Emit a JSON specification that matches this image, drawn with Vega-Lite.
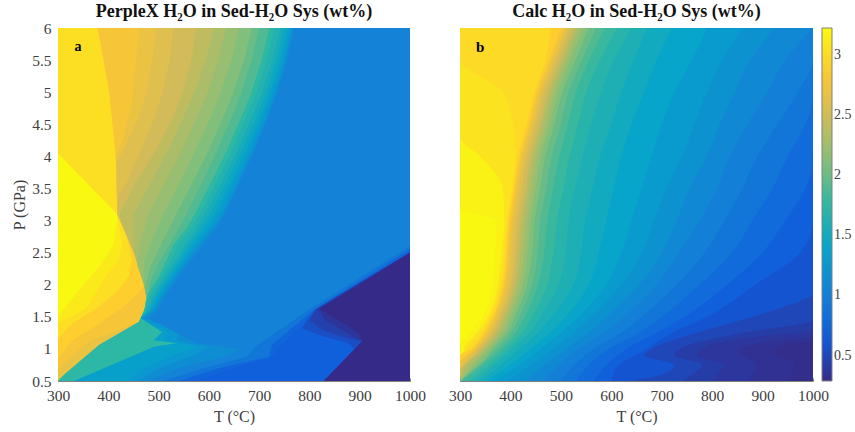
{"$schema":"https://vega.github.io/schema/vega-lite/v6.json","padding":{"left":11,"top":3,"right":0,"bottom":0},"spacing":22,"config":{"view":{"stroke":null},"font":"Liberation Serif","axis":{"grid":false,"domainColor":"#808080","tickColor":"#808080","tickSize":-3,"labelColor":"#404040","titleColor":"#404040","labelFontSize":15.5,"titleFontSize":16,"titleFontWeight":"normal","labelFont":"Liberation Serif","titleFont":"Liberation Serif","zindex":1,"labelOverlap":false},"title":{"font":"Liberation Serif","fontSize":18,"fontWeight":"bold","color":"#111111"}},
"datasets":{"a":[
{"v":3.2,"p":0.5,"t":300},{"v":3.2,"p":6,"t":300},
{"v":3.1,"p":0.5,"t":300},{"v":3.1,"p":1.5,"t":300},{"v":3.1,"p":1.6,"t":310},{"v":3.1,"p":1.875,"t":337},{"v":3.1,"p":2.125,"t":365},{"v":3.1,"p":2.375,"t":390},{"v":3.1,"p":2.625,"t":410},{"v":3.1,"p":3.1,"t":418},{"v":3.1,"p":4.05,"t":300},{"v":3.1,"p":6,"t":300},
{"v":3.02,"p":0.5,"t":300},{"v":3.02,"p":1.4,"t":300},{"v":3.02,"p":1.625,"t":355},{"v":3.02,"p":1.875,"t":375},{"v":3.02,"p":2.125,"t":395},{"v":3.02,"p":2.375,"t":420},{"v":3.02,"p":2.625,"t":428},{"v":3.02,"p":3.1,"t":418},{"v":3.02,"p":4.05,"t":300},{"v":3.02,"p":6,"t":300},
{"v":2.9,"p":0.5,"t":300},{"v":2.9,"p":1.15,"t":300},{"v":2.9,"p":1.375,"t":325},{"v":2.9,"p":1.625,"t":375},{"v":2.9,"p":1.875,"t":415},{"v":2.9,"p":2.125,"t":440},{"v":2.9,"p":2.375,"t":447},{"v":2.9,"p":2.75,"t":437},{"v":2.9,"p":3.1,"t":418},{"v":2.9,"p":4,"t":415},{"v":2.9,"p":5,"t":402},{"v":2.9,"p":6,"t":379},
{"v":2.8,"p":0.5,"t":300},{"v":2.8,"p":0.85,"t":300},{"v":2.8,"p":1.125,"t":328},{"v":2.8,"p":1.375,"t":378},{"v":2.8,"p":1.625,"t":425},{"v":2.8,"p":1.875,"t":460},{"v":2.8,"p":2,"t":471},{"v":2.8,"p":2.5,"t":451},{"v":2.8,"p":2.75,"t":437},{"v":2.8,"p":3.1,"t":418},{"v":2.8,"p":4,"t":415},{"v":2.8,"p":5,"t":402},{"v":2.8,"p":6,"t":379},
{"v":2.7,"p":0.5,"t":300},{"v":2.7,"p":0.7,"t":300},{"v":2.7,"p":0.875,"t":325},{"v":2.7,"p":1.125,"t":362},{"v":2.7,"p":1.42,"t":461},{"v":2.7,"p":1.6,"t":472},{"v":2.7,"p":1.8,"t":476},{"v":2.7,"p":2,"t":471},{"v":2.7,"p":2.5,"t":451},{"v":2.7,"p":3.1,"t":418},{"v":2.7,"p":4,"t":415},{"v":2.7,"p":4.25,"t":428},{"v":2.7,"p":4.75,"t":445},{"v":2.7,"p":5.5,"t":455},{"v":2.7,"p":6,"t":460},
{"v":2.6,"p":0.5,"t":300},{"v":2.6,"p":0.6,"t":313},{"v":2.6,"p":1.06,"t":382},{"v":2.6,"p":1.42,"t":461},{"v":2.6,"p":1.6,"t":472},{"v":2.6,"p":1.8,"t":476},{"v":2.6,"p":2,"t":471},{"v":2.6,"p":2.5,"t":451},{"v":2.6,"p":3.1,"t":418},{"v":2.6,"p":3.9,"t":416},{"v":2.6,"p":4.1,"t":430},{"v":2.6,"p":4.6,"t":460},{"v":2.6,"p":5,"t":475},{"v":2.6,"p":5.5,"t":488},{"v":2.6,"p":6,"t":495},
{"v":2.5,"p":0.5,"t":300},{"v":2.5,"p":0.6,"t":313},{"v":2.5,"p":1.06,"t":382},{"v":2.5,"p":1.42,"t":461},{"v":2.5,"p":1.6,"t":472},{"v":2.5,"p":1.8,"t":476},{"v":2.5,"p":2,"t":471},{"v":2.5,"p":2.5,"t":451},{"v":2.5,"p":3.1,"t":418},{"v":2.5,"p":3.4,"t":420},{"v":2.5,"p":3.6,"t":438},{"v":2.5,"p":4.1,"t":465},{"v":2.5,"p":4.6,"t":492},{"v":2.5,"p":5,"t":508},{"v":2.5,"p":5.5,"t":522},{"v":2.5,"p":6,"t":530},
{"v":2.4,"p":0.5,"t":300},{"v":2.4,"p":0.6,"t":313},{"v":2.4,"p":1.06,"t":382},{"v":2.4,"p":1.42,"t":461},{"v":2.4,"p":1.6,"t":472},{"v":2.4,"p":1.8,"t":476},{"v":2.4,"p":2,"t":471},{"v":2.4,"p":2.5,"t":451},{"v":2.4,"p":2.9,"t":430},{"v":2.4,"p":3.1,"t":422},{"v":2.4,"p":3.6,"t":455},{"v":2.4,"p":4.1,"t":495},{"v":2.4,"p":4.6,"t":528},{"v":2.4,"p":5,"t":548},{"v":2.4,"p":5.5,"t":565},{"v":2.4,"p":6,"t":575},
{"v":2.3,"p":0.5,"t":300},{"v":2.3,"p":0.6,"t":313},{"v":2.3,"p":1.06,"t":382},{"v":2.3,"p":1.42,"t":461},{"v":2.3,"p":1.6,"t":472},{"v":2.3,"p":1.8,"t":476},{"v":2.3,"p":2,"t":471},{"v":2.3,"p":2.5,"t":451},{"v":2.3,"p":2.75,"t":450},{"v":2.3,"p":3.1,"t":450},{"v":2.3,"p":3.6,"t":485},{"v":2.3,"p":4.1,"t":519},{"v":2.3,"p":4.6,"t":549},{"v":2.3,"p":5,"t":571},{"v":2.3,"p":5.5,"t":594},{"v":2.3,"p":6,"t":610},
{"v":2.2,"p":0.5,"t":300},{"v":2.2,"p":0.6,"t":313},{"v":2.2,"p":1.06,"t":382},{"v":2.2,"p":1.42,"t":461},{"v":2.2,"p":1.6,"t":472},{"v":2.2,"p":1.8,"t":476},{"v":2.2,"p":2,"t":471},{"v":2.2,"p":2.3,"t":458},{"v":2.2,"p":2.6,"t":462},{"v":2.2,"p":3.1,"t":480},{"v":2.2,"p":3.6,"t":514},{"v":2.2,"p":4.1,"t":547},{"v":2.2,"p":4.6,"t":576},{"v":2.2,"p":5,"t":598},{"v":2.2,"p":5.5,"t":619},{"v":2.2,"p":6,"t":635},
{"v":2.1,"p":0.5,"t":300},{"v":2.1,"p":0.6,"t":313},{"v":2.1,"p":1.06,"t":382},{"v":2.1,"p":1.42,"t":461},{"v":2.1,"p":1.6,"t":472},{"v":2.1,"p":1.8,"t":476},{"v":2.1,"p":2.05,"t":471},{"v":2.1,"p":2.375,"t":472},{"v":2.1,"p":2.75,"t":490},{"v":2.1,"p":3.1,"t":510},{"v":2.1,"p":3.6,"t":543},{"v":2.1,"p":4.1,"t":574},{"v":2.1,"p":4.6,"t":603},{"v":2.1,"p":5,"t":624},{"v":2.1,"p":5.5,"t":645},{"v":2.1,"p":6,"t":660},
{"v":2,"p":0.5,"t":300},{"v":2,"p":0.6,"t":313},{"v":2,"p":1.06,"t":382},{"v":2,"p":1.42,"t":461},{"v":2,"p":1.6,"t":472},{"v":2,"p":1.8,"t":476},{"v":2,"p":1.95,"t":473},{"v":2,"p":2.25,"t":482},{"v":2,"p":2.625,"t":505},{"v":2,"p":3.1,"t":535},{"v":2,"p":3.6,"t":568},{"v":2,"p":4.1,"t":600},{"v":2,"p":4.6,"t":628},{"v":2,"p":5,"t":649},{"v":2,"p":5.5,"t":670},{"v":2,"p":6,"t":685},
{"v":1.9,"p":0.5,"t":300},{"v":1.9,"p":0.6,"t":313},{"v":1.9,"p":1.06,"t":382},{"v":1.9,"p":1.42,"t":461},{"v":1.9,"p":1.6,"t":472},{"v":1.9,"p":1.8,"t":476},{"v":1.9,"p":2.125,"t":487},{"v":1.9,"p":2.4,"t":505},{"v":1.9,"p":2.875,"t":540},{"v":1.9,"p":3.1,"t":555},{"v":1.9,"p":3.6,"t":587},{"v":1.9,"p":4.1,"t":617},{"v":1.9,"p":4.6,"t":645},{"v":1.9,"p":5,"t":665},{"v":1.9,"p":5.5,"t":685},{"v":1.9,"p":6,"t":700},
{"v":1.75,"p":0.5,"t":300},{"v":1.75,"p":0.6,"t":313},{"v":1.75,"p":1.06,"t":382},{"v":1.75,"p":1.42,"t":461},{"v":1.75,"p":1.62,"t":472},{"v":1.75,"p":1.875,"t":480},{"v":1.75,"p":2.125,"t":500},{"v":1.75,"p":2.375,"t":515},{"v":1.75,"p":2.625,"t":530},{"v":1.75,"p":2.875,"t":555},{"v":1.75,"p":3.1,"t":572},{"v":1.75,"p":3.6,"t":605},{"v":1.75,"p":4.1,"t":636},{"v":1.75,"p":4.6,"t":664},{"v":1.75,"p":5,"t":685},{"v":1.75,"p":5.5,"t":705},{"v":1.75,"p":6,"t":720},
{"v":1.65,"p":0.5,"t":333},{"v":1.65,"p":1.03,"t":491},{"v":1.65,"p":1.09,"t":538},{"v":1.65,"p":1.14,"t":491},{"v":1.65,"p":1.26,"t":508},{"v":1.65,"p":1.48,"t":465},{"v":1.65,"p":1.6,"t":474},{"v":1.65,"p":1.75,"t":478},{"v":1.65,"p":1.875,"t":485},{"v":1.65,"p":2.125,"t":505},{"v":1.65,"p":2.375,"t":525},{"v":1.65,"p":2.625,"t":540},{"v":1.65,"p":2.875,"t":565},{"v":1.65,"p":3.1,"t":582},{"v":1.65,"p":3.6,"t":615},{"v":1.65,"p":4.1,"t":646},{"v":1.65,"p":4.6,"t":674},{"v":1.65,"p":5,"t":695},{"v":1.65,"p":5.5,"t":715},{"v":1.65,"p":6,"t":730},
{"v":1.55,"p":0.5,"t":333},{"v":1.55,"p":1.03,"t":491},{"v":1.55,"p":1.09,"t":538},{"v":1.55,"p":1.14,"t":491},{"v":1.55,"p":1.26,"t":508},{"v":1.55,"p":1.48,"t":465},{"v":1.55,"p":1.6,"t":476},{"v":1.55,"p":1.875,"t":492},{"v":1.55,"p":2.125,"t":512},{"v":1.55,"p":2.375,"t":533},{"v":1.55,"p":2.625,"t":553},{"v":1.55,"p":2.875,"t":575},{"v":1.55,"p":3.1,"t":592},{"v":1.55,"p":3.6,"t":625},{"v":1.55,"p":4.1,"t":657},{"v":1.55,"p":4.6,"t":685},{"v":1.55,"p":5,"t":706},{"v":1.55,"p":5.5,"t":727},{"v":1.55,"p":6,"t":742},
{"v":1.45,"p":0.5,"t":333},{"v":1.45,"p":1.03,"t":491},{"v":1.45,"p":1.09,"t":538},{"v":1.45,"p":1.14,"t":491},{"v":1.45,"p":1.26,"t":508},{"v":1.45,"p":1.48,"t":465},{"v":1.45,"p":1.6,"t":480},{"v":1.45,"p":1.875,"t":498},{"v":1.45,"p":2.125,"t":518},{"v":1.45,"p":2.375,"t":540},{"v":1.45,"p":2.625,"t":560},{"v":1.45,"p":2.875,"t":583},{"v":1.45,"p":3.1,"t":602},{"v":1.45,"p":3.6,"t":635},{"v":1.45,"p":4.1,"t":666},{"v":1.45,"p":4.6,"t":694},{"v":1.45,"p":5,"t":715},{"v":1.45,"p":5.5,"t":735},{"v":1.45,"p":6,"t":750},
{"v":1.35,"p":0.5,"t":333},{"v":1.35,"p":1.03,"t":491},{"v":1.35,"p":1.09,"t":538},{"v":1.35,"p":1.14,"t":491},{"v":1.35,"p":1.26,"t":508},{"v":1.35,"p":1.48,"t":465},{"v":1.35,"p":1.6,"t":484},{"v":1.35,"p":1.875,"t":502},{"v":1.35,"p":2.125,"t":524},{"v":1.35,"p":2.375,"t":546},{"v":1.35,"p":2.625,"t":568},{"v":1.35,"p":2.875,"t":592},{"v":1.35,"p":3.1,"t":612},{"v":1.35,"p":3.6,"t":644},{"v":1.35,"p":4.1,"t":674},{"v":1.35,"p":4.6,"t":702},{"v":1.35,"p":5,"t":722},{"v":1.35,"p":5.5,"t":742},{"v":1.35,"p":6,"t":757},
{"v":1.25,"p":0.5,"t":441},{"v":1.25,"p":0.7,"t":470},{"v":1.25,"p":0.9,"t":530},{"v":1.25,"p":1.03,"t":575},{"v":1.25,"p":1.09,"t":545},{"v":1.25,"p":1.14,"t":510},{"v":1.25,"p":1.26,"t":520},{"v":1.25,"p":1.48,"t":465},{"v":1.25,"p":1.6,"t":488},{"v":1.25,"p":1.875,"t":507},{"v":1.25,"p":2.125,"t":528},{"v":1.25,"p":2.375,"t":551},{"v":1.25,"p":2.625,"t":575},{"v":1.25,"p":2.875,"t":600},{"v":1.25,"p":3.1,"t":620},{"v":1.25,"p":3.6,"t":651},{"v":1.25,"p":4.1,"t":681},{"v":1.25,"p":4.6,"t":708},{"v":1.25,"p":5,"t":728},{"v":1.25,"p":5.5,"t":748},{"v":1.25,"p":6,"t":762},
{"v":1.15,"p":0.5,"t":460},{"v":1.15,"p":0.7,"t":500},{"v":1.15,"p":0.9,"t":570},{"v":1.15,"p":1.03,"t":600},{"v":1.15,"p":1.09,"t":560},{"v":1.15,"p":1.14,"t":535},{"v":1.15,"p":1.26,"t":545},{"v":1.15,"p":1.48,"t":470},{"v":1.15,"p":1.6,"t":492},{"v":1.15,"p":1.875,"t":512},{"v":1.15,"p":2.125,"t":534},{"v":1.15,"p":2.375,"t":557},{"v":1.15,"p":2.625,"t":582},{"v":1.15,"p":2.875,"t":607},{"v":1.15,"p":3.1,"t":628},{"v":1.15,"p":3.6,"t":658},{"v":1.15,"p":4.1,"t":687},{"v":1.15,"p":4.6,"t":714},{"v":1.15,"p":5,"t":733},{"v":1.15,"p":5.5,"t":752},{"v":1.15,"p":6,"t":766},
{"v":1.03,"p":0.5,"t":480},{"v":1.03,"p":0.7,"t":540},{"v":1.03,"p":0.9,"t":640},{"v":1.03,"p":1,"t":660},{"v":1.03,"p":1.09,"t":575},{"v":1.03,"p":1.48,"t":480},{"v":1.03,"p":1.6,"t":498},{"v":1.03,"p":1.875,"t":518},{"v":1.03,"p":2.125,"t":540},{"v":1.03,"p":2.375,"t":565},{"v":1.03,"p":2.625,"t":590},{"v":1.03,"p":2.875,"t":615},{"v":1.03,"p":3.1,"t":632},{"v":1.03,"p":3.6,"t":662},{"v":1.03,"p":4.1,"t":691},{"v":1.03,"p":4.6,"t":718},{"v":1.03,"p":5,"t":737},{"v":1.03,"p":5.5,"t":756},{"v":1.03,"p":6,"t":770},
{"v":0.9,"p":0.5,"t":510},{"v":0.9,"p":0.7,"t":590},{"v":0.9,"p":0.875,"t":675},{"v":0.9,"p":1.06,"t":697},{"v":0.9,"p":1.6,"t":797},{"v":0.9,"p":2.6,"t":1000},{"v":0.9,"p":6,"t":1000},
{"v":0.75,"p":0.5,"t":540},{"v":0.75,"p":0.7,"t":620},{"v":0.75,"p":0.875,"t":720},{"v":0.75,"p":1.06,"t":725},{"v":0.75,"p":1.6,"t":807},{"v":0.75,"p":2.55,"t":1000},{"v":0.75,"p":6,"t":1000},
{"v":0.7,"p":0.5,"t":575},{"v":0.7,"p":0.7,"t":650},{"v":0.7,"p":0.875,"t":725},{"v":0.7,"p":1.06,"t":745},{"v":0.7,"p":1.3,"t":775},{"v":0.7,"p":1.6,"t":812},{"v":0.7,"p":2.5,"t":1000},{"v":0.7,"p":6,"t":1000},
{"v":0.55,"p":0.5,"t":830},{"v":0.55,"p":1,"t":890},{"v":0.55,"p":1.1,"t":875},{"v":0.55,"p":1.2,"t":825},{"v":0.55,"p":1.32,"t":785},{"v":0.55,"p":1.62,"t":812},{"v":0.55,"p":2.5,"t":1000},{"v":0.55,"p":6,"t":1000},
{"v":0.45,"p":0.5,"t":830},{"v":0.45,"p":1.12,"t":905},{"v":0.45,"p":1.2,"t":860},{"v":0.45,"p":1.3,"t":825},{"v":0.45,"p":1.45,"t":800},{"v":0.45,"p":1.62,"t":815},{"v":0.45,"p":2.5,"t":1000},{"v":0.45,"p":6,"t":1000},
{"v":0.37,"p":0.5,"t":830},{"v":0.37,"p":1.12,"t":905},{"v":0.37,"p":1.2,"t":885},{"v":0.37,"p":1.3,"t":865},{"v":0.37,"p":1.45,"t":830},{"v":0.37,"p":1.62,"t":818},{"v":0.37,"p":2.5,"t":1000},{"v":0.37,"p":6,"t":1000},
{"v":0.29,"p":0.5,"t":828},{"v":0.29,"p":1.12,"t":905},{"v":0.29,"p":1.22,"t":900},{"v":0.29,"p":1.35,"t":880},{"v":0.29,"p":1.5,"t":845},{"v":0.29,"p":1.62,"t":820},{"v":0.29,"p":2.5,"t":1000},{"v":0.29,"p":6,"t":1000}
],"b":[
{"v":3.2,"p":0.5,"t":300},{"v":3.2,"p":6,"t":300},
{"v":3.15,"p":0.5,"t":300},{"v":3.15,"p":1,"t":300},{"v":3.15,"p":1.25,"t":318},{"v":3.15,"p":1.5,"t":345},{"v":3.15,"p":2,"t":365},{"v":3.15,"p":2.5,"t":370},{"v":3.15,"p":3,"t":372},{"v":3.15,"p":3.2,"t":300},{"v":3.15,"p":6,"t":300},
{"v":3.05,"p":0.5,"t":300},{"v":3.05,"p":1,"t":308},{"v":3.05,"p":1.25,"t":333},{"v":3.05,"p":1.5,"t":355},{"v":3.05,"p":2,"t":375},{"v":3.05,"p":2.5,"t":382},{"v":3.05,"p":3,"t":388},{"v":3.05,"p":3.5,"t":385},{"v":3.05,"p":4,"t":340},{"v":3.05,"p":4.3,"t":300},{"v":3.05,"p":6,"t":300},
{"v":2.98,"p":0.5,"t":300},{"v":2.98,"p":1,"t":315},{"v":2.98,"p":1.25,"t":340},{"v":2.98,"p":1.5,"t":360},{"v":2.98,"p":2,"t":380},{"v":2.98,"p":2.5,"t":388},{"v":2.98,"p":3,"t":393},{"v":2.98,"p":3.5,"t":403},{"v":2.98,"p":4,"t":410},{"v":2.98,"p":4.5,"t":405},{"v":2.98,"p":5,"t":385},{"v":2.98,"p":5.5,"t":300},{"v":2.98,"p":6,"t":300},
{"v":2.9,"p":0.5,"t":300},{"v":2.9,"p":0.9,"t":300},{"v":2.9,"p":1,"t":322},{"v":2.9,"p":1.25,"t":346},{"v":2.9,"p":1.5,"t":364},{"v":2.9,"p":2,"t":384},{"v":2.9,"p":2.5,"t":391},{"v":2.9,"p":3,"t":396},{"v":2.9,"p":3.5,"t":406},{"v":2.9,"p":4,"t":415},{"v":2.9,"p":4.5,"t":432},{"v":2.9,"p":5,"t":448},{"v":2.9,"p":5.5,"t":470},{"v":2.9,"p":6,"t":480},
{"v":2.8,"p":0.5,"t":300},{"v":2.8,"p":0.8,"t":300},{"v":2.8,"p":1,"t":326},{"v":2.8,"p":1.25,"t":350},{"v":2.8,"p":1.5,"t":367},{"v":2.8,"p":2,"t":387},{"v":2.8,"p":2.5,"t":394},{"v":2.8,"p":3,"t":399},{"v":2.8,"p":3.5,"t":409},{"v":2.8,"p":4,"t":419},{"v":2.8,"p":4.5,"t":437},{"v":2.8,"p":5,"t":452},{"v":2.8,"p":5.5,"t":477},{"v":2.8,"p":6,"t":500},
{"v":2.7,"p":0.5,"t":300},{"v":2.7,"p":0.75,"t":300},{"v":2.7,"p":1,"t":330},{"v":2.7,"p":1.25,"t":354},{"v":2.7,"p":1.5,"t":370},{"v":2.7,"p":2,"t":390},{"v":2.7,"p":2.5,"t":397},{"v":2.7,"p":3,"t":402},{"v":2.7,"p":3.5,"t":412},{"v":2.7,"p":4,"t":422},{"v":2.7,"p":4.5,"t":440},{"v":2.7,"p":5,"t":456},{"v":2.7,"p":5.5,"t":481},{"v":2.7,"p":6,"t":506},
{"v":2.6,"p":0.5,"t":300},{"v":2.6,"p":0.75,"t":305},{"v":2.6,"p":1,"t":334},{"v":2.6,"p":1.25,"t":359},{"v":2.6,"p":1.5,"t":375},{"v":2.6,"p":2,"t":395},{"v":2.6,"p":2.5,"t":402},{"v":2.6,"p":3,"t":407},{"v":2.6,"p":3.5,"t":417},{"v":2.6,"p":4,"t":427},{"v":2.6,"p":4.5,"t":445},{"v":2.6,"p":5,"t":461},{"v":2.6,"p":5.5,"t":486},{"v":2.6,"p":6,"t":511},
{"v":2.5,"p":0.5,"t":300},{"v":2.5,"p":0.7,"t":300},{"v":2.5,"p":0.75,"t":310},{"v":2.5,"p":1,"t":338},{"v":2.5,"p":1.25,"t":364},{"v":2.5,"p":1.5,"t":380},{"v":2.5,"p":2,"t":401},{"v":2.5,"p":2.5,"t":408},{"v":2.5,"p":3,"t":413},{"v":2.5,"p":3.5,"t":423},{"v":2.5,"p":4,"t":433},{"v":2.5,"p":4.5,"t":451},{"v":2.5,"p":5,"t":467},{"v":2.5,"p":5.5,"t":492},{"v":2.5,"p":6,"t":517},
{"v":2.4,"p":0.5,"t":300},{"v":2.4,"p":0.7,"t":305},{"v":2.4,"p":1,"t":343},{"v":2.4,"p":1.25,"t":369},{"v":2.4,"p":1.5,"t":385},{"v":2.4,"p":2,"t":406},{"v":2.4,"p":2.5,"t":414},{"v":2.4,"p":3,"t":420},{"v":2.4,"p":3.5,"t":430},{"v":2.4,"p":4,"t":440},{"v":2.4,"p":4.5,"t":458},{"v":2.4,"p":5,"t":474},{"v":2.4,"p":5.5,"t":499},{"v":2.4,"p":6,"t":524},
{"v":2.3,"p":0.5,"t":300},{"v":2.3,"p":0.65,"t":305},{"v":2.3,"p":1,"t":348},{"v":2.3,"p":1.25,"t":375},{"v":2.3,"p":1.5,"t":390},{"v":2.3,"p":2,"t":412},{"v":2.3,"p":2.5,"t":420},{"v":2.3,"p":3,"t":426},{"v":2.3,"p":3.5,"t":436},{"v":2.3,"p":4,"t":446},{"v":2.3,"p":4.5,"t":464},{"v":2.3,"p":5,"t":480},{"v":2.3,"p":5.5,"t":505},{"v":2.3,"p":6,"t":530},
{"v":2.2,"p":0.5,"t":300},{"v":2.2,"p":0.62,"t":310},{"v":2.2,"p":1,"t":353},{"v":2.2,"p":1.25,"t":381},{"v":2.2,"p":1.5,"t":396},{"v":2.2,"p":2,"t":418},{"v":2.2,"p":2.5,"t":427},{"v":2.2,"p":3,"t":433},{"v":2.2,"p":3.5,"t":443},{"v":2.2,"p":4,"t":453},{"v":2.2,"p":4.5,"t":471},{"v":2.2,"p":5,"t":487},{"v":2.2,"p":5.5,"t":512},{"v":2.2,"p":6,"t":537},
{"v":2.1,"p":0.5,"t":300},{"v":2.1,"p":0.6,"t":312},{"v":2.1,"p":1,"t":359},{"v":2.1,"p":1.25,"t":387},{"v":2.1,"p":1.5,"t":402},{"v":2.1,"p":2,"t":425},{"v":2.1,"p":2.5,"t":434},{"v":2.1,"p":3,"t":440},{"v":2.1,"p":3.5,"t":450},{"v":2.1,"p":4,"t":460},{"v":2.1,"p":4.5,"t":478},{"v":2.1,"p":5,"t":494},{"v":2.1,"p":5.5,"t":519},{"v":2.1,"p":6,"t":545},
{"v":2,"p":0.5,"t":300},{"v":2,"p":0.55,"t":312},{"v":2,"p":1,"t":365},{"v":2,"p":1.25,"t":394},{"v":2,"p":1.5,"t":409},{"v":2,"p":2,"t":433},{"v":2,"p":2.5,"t":443},{"v":2,"p":3,"t":448},{"v":2,"p":3.5,"t":459},{"v":2,"p":4,"t":469},{"v":2,"p":4.5,"t":487},{"v":2,"p":5,"t":503},{"v":2,"p":5.5,"t":529},{"v":2,"p":6,"t":555},
{"v":1.9,"p":0.5,"t":300},{"v":1.9,"p":1,"t":373},{"v":1.9,"p":1.25,"t":402},{"v":1.9,"p":1.5,"t":418},{"v":1.9,"p":2,"t":443},{"v":1.9,"p":2.5,"t":454},{"v":1.9,"p":3,"t":459},{"v":1.9,"p":3.5,"t":471},{"v":1.9,"p":4,"t":482},{"v":1.9,"p":4.5,"t":500},{"v":1.9,"p":5,"t":515},{"v":1.9,"p":5.5,"t":542},{"v":1.9,"p":6,"t":570},
{"v":1.8,"p":0.5,"t":305},{"v":1.8,"p":1,"t":382},{"v":1.8,"p":1.25,"t":411},{"v":1.8,"p":1.5,"t":429},{"v":1.8,"p":2,"t":455},{"v":1.8,"p":2.5,"t":467},{"v":1.8,"p":3,"t":473},{"v":1.8,"p":3.5,"t":485},{"v":1.8,"p":4,"t":497},{"v":1.8,"p":4.5,"t":514},{"v":1.8,"p":5,"t":530},{"v":1.8,"p":5.5,"t":556},{"v":1.8,"p":6,"t":587},
{"v":1.7,"p":0.5,"t":318},{"v":1.7,"p":1,"t":392},{"v":1.7,"p":1.25,"t":423},{"v":1.7,"p":1.5,"t":443},{"v":1.7,"p":2,"t":473},{"v":1.7,"p":2.5,"t":485},{"v":1.7,"p":3,"t":492},{"v":1.7,"p":3.5,"t":505},{"v":1.7,"p":4,"t":517},{"v":1.7,"p":4.5,"t":534},{"v":1.7,"p":5,"t":550},{"v":1.7,"p":5.5,"t":577},{"v":1.7,"p":6,"t":612},
{"v":1.6,"p":0.5,"t":330},{"v":1.6,"p":1,"t":403},{"v":1.6,"p":1.25,"t":437},{"v":1.6,"p":1.5,"t":460},{"v":1.6,"p":2,"t":495},{"v":1.6,"p":2.5,"t":510},{"v":1.6,"p":3,"t":515},{"v":1.6,"p":3.5,"t":528},{"v":1.6,"p":4,"t":543},{"v":1.6,"p":4.5,"t":560},{"v":1.6,"p":5,"t":580},{"v":1.6,"p":5.5,"t":605},{"v":1.6,"p":6,"t":640},
{"v":1.5,"p":0.5,"t":342},{"v":1.5,"p":1,"t":418},{"v":1.5,"p":1.25,"t":455},{"v":1.5,"p":1.5,"t":482},{"v":1.5,"p":2,"t":525},{"v":1.5,"p":2.5,"t":540},{"v":1.5,"p":3,"t":548},{"v":1.5,"p":3.5,"t":563},{"v":1.5,"p":4,"t":578},{"v":1.5,"p":4.5,"t":600},{"v":1.5,"p":5,"t":620},{"v":1.5,"p":5.5,"t":645},{"v":1.5,"p":6,"t":670},
{"v":1.4,"p":0.5,"t":355},{"v":1.4,"p":1,"t":440},{"v":1.4,"p":1.25,"t":478},{"v":1.4,"p":1.5,"t":510},{"v":1.4,"p":2,"t":555},{"v":1.4,"p":2.5,"t":575},{"v":1.4,"p":3,"t":590},{"v":1.4,"p":3.5,"t":605},{"v":1.4,"p":4,"t":620},{"v":1.4,"p":4.5,"t":640},{"v":1.4,"p":5,"t":665},{"v":1.4,"p":5.5,"t":690},{"v":1.4,"p":6,"t":720},
{"v":1.3,"p":0.5,"t":370},{"v":1.3,"p":1,"t":460},{"v":1.3,"p":1.25,"t":500},{"v":1.3,"p":1.5,"t":535},{"v":1.3,"p":2,"t":590},{"v":1.3,"p":2.5,"t":620},{"v":1.3,"p":3,"t":640},{"v":1.3,"p":3.5,"t":660},{"v":1.3,"p":4,"t":680},{"v":1.3,"p":4.5,"t":700},{"v":1.3,"p":5,"t":725},{"v":1.3,"p":5.5,"t":760},{"v":1.3,"p":6,"t":790},
{"v":1.2,"p":0.5,"t":395},{"v":1.2,"p":1,"t":485},{"v":1.2,"p":1.25,"t":525},{"v":1.2,"p":1.5,"t":560},{"v":1.2,"p":2,"t":620},{"v":1.2,"p":2.5,"t":660},{"v":1.2,"p":3,"t":685},{"v":1.2,"p":3.5,"t":710},{"v":1.2,"p":4,"t":740},{"v":1.2,"p":4.5,"t":765},{"v":1.2,"p":5,"t":790},{"v":1.2,"p":5.5,"t":820},{"v":1.2,"p":6,"t":860},
{"v":1.1,"p":0.5,"t":430},{"v":1.1,"p":1,"t":510},{"v":1.1,"p":1.25,"t":555},{"v":1.1,"p":1.5,"t":590},{"v":1.1,"p":2,"t":655},{"v":1.1,"p":2.5,"t":700},{"v":1.1,"p":3,"t":730},{"v":1.1,"p":3.5,"t":755},{"v":1.1,"p":4,"t":790},{"v":1.1,"p":4.5,"t":815},{"v":1.1,"p":5,"t":845},{"v":1.1,"p":5.5,"t":875},{"v":1.1,"p":6,"t":925},
{"v":1,"p":0.5,"t":465},{"v":1,"p":1,"t":535},{"v":1,"p":1.25,"t":585},{"v":1,"p":1.5,"t":625},{"v":1,"p":2,"t":690},{"v":1,"p":2.5,"t":735},{"v":1,"p":3,"t":775},{"v":1,"p":3.5,"t":810},{"v":1,"p":4,"t":835},{"v":1,"p":4.5,"t":870},{"v":1,"p":5,"t":910},{"v":1,"p":5.5,"t":945},{"v":1,"p":6,"t":1000},
{"v":0.9,"p":0.5,"t":500},{"v":0.9,"p":1,"t":565},{"v":0.9,"p":1.25,"t":620},{"v":0.9,"p":1.5,"t":660},{"v":0.9,"p":2,"t":730},{"v":0.9,"p":2.5,"t":785},{"v":0.9,"p":3,"t":825},{"v":0.9,"p":3.5,"t":860},{"v":0.9,"p":4,"t":890},{"v":0.9,"p":4.5,"t":930},{"v":0.9,"p":5,"t":970},{"v":0.9,"p":5.5,"t":1000},{"v":0.9,"p":6,"t":1000},
{"v":0.8,"p":0.5,"t":530},{"v":0.8,"p":1,"t":595},{"v":0.8,"p":1.25,"t":655},{"v":0.8,"p":1.5,"t":700},{"v":0.8,"p":2,"t":775},{"v":0.8,"p":2.5,"t":840},{"v":0.8,"p":3,"t":880},{"v":0.8,"p":3.5,"t":920},{"v":0.8,"p":4,"t":950},{"v":0.8,"p":4.5,"t":985},{"v":0.8,"p":5,"t":1000},{"v":0.8,"p":6,"t":1000},
{"v":0.7,"p":0.5,"t":565},{"v":0.7,"p":1,"t":630},{"v":0.7,"p":1.25,"t":690},{"v":0.7,"p":1.5,"t":745},{"v":0.7,"p":2,"t":830},{"v":0.7,"p":2.5,"t":900},{"v":0.7,"p":3,"t":945},{"v":0.7,"p":3.5,"t":985},{"v":0.7,"p":4,"t":1000},{"v":0.7,"p":6,"t":1000},
{"v":0.6,"p":0.5,"t":600},{"v":0.6,"p":0.75,"t":615},{"v":0.6,"p":1,"t":670},{"v":0.6,"p":1.25,"t":720},{"v":0.6,"p":1.5,"t":790},{"v":0.6,"p":2,"t":885},{"v":0.6,"p":2.5,"t":975},{"v":0.6,"p":3,"t":1000},{"v":0.6,"p":6,"t":1000},
{"v":0.5,"p":0.5,"t":640},{"v":0.5,"p":0.6,"t":700},{"v":0.5,"p":0.75,"t":725},{"v":0.5,"p":0.9,"t":665},{"v":0.5,"p":1,"t":680},{"v":0.5,"p":1.25,"t":770},{"v":0.5,"p":1.5,"t":880},{"v":0.5,"p":1.75,"t":975},{"v":0.5,"p":1.85,"t":1000},{"v":0.5,"p":6,"t":1000},
{"v":0.43,"p":0.5,"t":740},{"v":0.43,"p":0.6,"t":760},{"v":0.43,"p":0.75,"t":780},{"v":0.43,"p":0.9,"t":725},{"v":0.43,"p":1,"t":735},{"v":0.43,"p":1.25,"t":860},{"v":0.43,"p":1.45,"t":1000},{"v":0.43,"p":6,"t":1000},
{"v":0.38,"p":0.5,"t":800},{"v":0.38,"p":0.6,"t":810},{"v":0.38,"p":0.75,"t":825},{"v":0.38,"p":0.9,"t":770},{"v":0.38,"p":1.05,"t":790},{"v":0.38,"p":1.2,"t":900},{"v":0.38,"p":1.3,"t":1000},{"v":0.38,"p":6,"t":1000},
{"v":0.34,"p":0.5,"t":870},{"v":0.34,"p":0.6,"t":880},{"v":0.34,"p":0.75,"t":890},{"v":0.34,"p":0.95,"t":850},{"v":0.34,"p":1.1,"t":900},{"v":0.34,"p":1.2,"t":1000},{"v":0.34,"p":6,"t":1000},
{"v":0.31,"p":0.5,"t":950},{"v":0.31,"p":0.75,"t":965},{"v":0.31,"p":0.95,"t":925},{"v":0.31,"p":1.05,"t":950},{"v":0.31,"p":1.15,"t":1000},{"v":0.31,"p":6,"t":1000}
]},
"hconcat":[
{"width":352,"height":353,"title":{"text":"PerpleX H₂O in Sed-H₂O Sys (wt%)","offset":0},"layer":[
{"data":{"name":"a"},"mark":{"type":"area","orient":"horizontal","clip":true},"encoding":{
"x":{"field":"t","type":"quantitative","stack":null,"scale":{"domain":[300,1000],"nice":false,"zero":false},"axis":{"values":[300,400,500,600,700,800,900,1000],"format":"d","title":"T (°C)","labelFlush":false,"labelPadding":10,"titlePadding":5,"labelOverlap":false}},
"x2":{"datum":1000},
"y":{"field":"p","type":"quantitative","scale":{"domain":[0.5,6],"nice":false,"zero":false},"axis":{"values":[0.5,1,1.5,2,2.5,3,3.5,4,4.5,5,5.5,6],"format":".1~f","title":"P (GPa)","labelFlush":false,"labelPadding":10,"labelOverlap":false}},
"detail":{"field":"v","type":"quantitative"},
"color":{"field":"v","type":"quantitative","legend":{"title":null,"values":[0.5,1,1.5,2,2.5,3],"format":".1~f","gradientLength":353,"gradientThickness":10,"gradientStrokeColor":"#808080","gradientStrokeWidth":1,"labelFontSize":14,"labelColor":"#404040","labelFont":"Liberation Serif","offset":-7},"scale":{"domain":[0.29,0.656,1.023,1.389,1.755,2.121,2.488,2.854,3.22],"range":["#352a87","#0f5cdd","#1481d6","#06a4ca","#2eb7a4","#87bf77","#d1bb59","#fec832","#f9fb0e"],"interpolate":"rgb"}}}},
{"data":{"values":[{"t":340,"p":5.7,"l":"a"}]},"mark":{"type":"text","fontWeight":"bold","fontSize":14,"color":"#000000","font":"Liberation Serif"},"encoding":{
"x":{"field":"t","type":"quantitative","axis":{"values":[300,400,500,600,700,800,900,1000],"format":"d","title":"T (°C)","labelFlush":false,"labelPadding":10,"titlePadding":5,"labelOverlap":false}},
"y":{"field":"p","type":"quantitative","axis":{"values":[0.5,1,1.5,2,2.5,3,3.5,4,4.5,5,5.5,6],"format":".1~f","title":"P (GPa)","labelFlush":false,"labelPadding":10,"labelOverlap":false}},
"text":{"field":"l"}}}
]},
{"width":353,"height":353,"title":{"text":"Calc H₂O in Sed-H₂O Sys (wt%)","offset":7},"layer":[
{"data":{"name":"b"},"mark":{"type":"area","orient":"horizontal","interpolate":"monotone","clip":true},"encoding":{
"x":{"field":"t","type":"quantitative","stack":null,"scale":{"domain":[300,1000],"nice":false,"zero":false},"axis":{"values":[300,400,500,600,700,800,900,1000],"format":"d","title":"T (°C)","labelFlush":false,"labelPadding":10,"titlePadding":5,"labelOverlap":false}},
"x2":{"datum":1000},
"y":{"field":"p","type":"quantitative","scale":{"domain":[0.5,6],"nice":false,"zero":false},"axis":{"labels":false,"ticks":false,"title":null}},
"detail":{"field":"v","type":"quantitative"},
"color":{"field":"v","type":"quantitative","legend":{"title":null,"values":[0.5,1,1.5,2,2.5,3],"format":".1~f","gradientLength":353,"gradientThickness":10,"gradientStrokeColor":"#808080","gradientStrokeWidth":1,"labelFontSize":14,"labelColor":"#404040","labelFont":"Liberation Serif","offset":-7},"scale":{"domain":[0.29,0.656,1.023,1.389,1.755,2.121,2.488,2.854,3.22],"range":["#352a87","#0f5cdd","#1481d6","#06a4ca","#2eb7a4","#87bf77","#d1bb59","#fec832","#f9fb0e"],"interpolate":"rgb"}}}},
{"data":{"values":[{"t":340,"p":5.7,"l":"b"}]},"mark":{"type":"text","fontWeight":"bold","fontSize":15,"color":"#000000","font":"Liberation Serif"},"encoding":{
"x":{"field":"t","type":"quantitative","axis":{"values":[300,400,500,600,700,800,900,1000],"format":"d","title":"T (°C)","labelFlush":false,"labelPadding":10,"titlePadding":5,"labelOverlap":false}},
"y":{"field":"p","type":"quantitative","axis":{"labels":false,"ticks":false,"title":null}},
"text":{"field":"l"}}}
]}
]}
